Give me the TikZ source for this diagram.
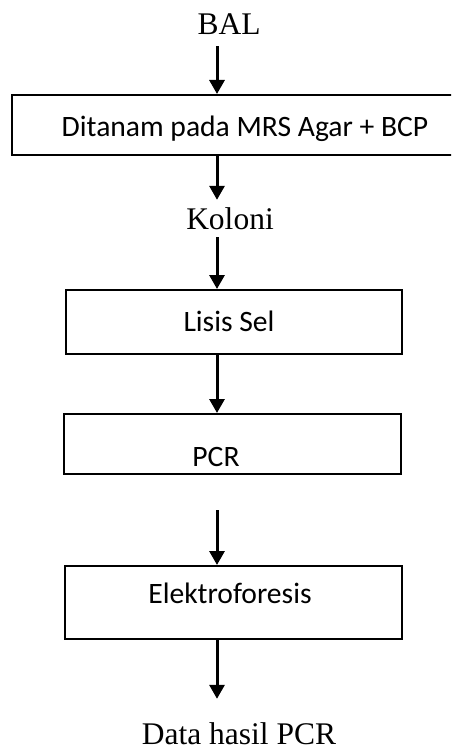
\documentclass[tikz,border=0pt]{standalone}
\usepackage{fontspec}
\setmainfont{Liberation Serif}
\newfontfamily\boxfont{Carlito}
\usetikzlibrary{arrows.meta}

\tikzset{
  lbl/.style={inner sep=0pt, anchor=base, text height=20pt, text depth=0pt,
    font=\fontsize{31.5}{37}\selectfont},
  stage/.style={draw, line width=2pt, inner sep=0pt, text height=19pt,
    text depth=0pt, font=\boxfont\fontsize{29.6}{35}\selectfont},
  flow/.style={line width=3pt, -{Triangle[length=14pt,width=15pt]}}
}

\begin{document}
\begin{tikzpicture}[x=1pt,y=-1pt]
  \useasboundingbox (0,0) rectangle (451,746);
  \clip (0,0) rectangle (451,746);

  % arrows all run down this line
  \coordinate (spine) at (217,0);

  \node[lbl] (bal) at (229,35) {BAL};
  \node[stage, minimum width=443pt, minimum height=60pt, text height=24pt]
    (ditanam) at (233.5,125) {\hspace*{23pt}Ditanam pada MRS Agar + BCP};
  \node[lbl] (koloni) at (230,229) {Koloni};
  \node[stage, minimum width=336pt, minimum height=64pt]
    (lisis) at (234,322) {\hspace*{-10pt}Lisis Sel};
  \node[stage, minimum width=337pt, minimum height=60pt, text height=44pt]
    (pcr) at (232.5,444) {\hspace*{-33pt}PCR};
  \node[stage, minimum width=337pt, minimum height=73pt, text depth=18pt]
    (elektro) at (233.5,602.5) {\hspace*{-7pt}Elektroforesis};
  \node[lbl] (data) at (239,744.5) {Data hasil PCR};

  \draw[flow, shorten <=11pt] (bal.south -| spine) -- (ditanam.north -| spine);
  \draw[flow, shorten >=9pt] (ditanam.south -| spine) -- (koloni.north -| spine);
  \draw[flow, shorten <=8pt] (koloni.south -| spine) -- (lisis.north -| spine);
  \draw[flow] (lisis.south -| spine) -- (pcr.north -| spine);
  \draw[flow, shorten <=35pt] (pcr.south -| spine) -- (elektro.north -| spine);
  \draw[flow, shorten >=25.5pt] (elektro.south -| spine) -- (data.north -| spine);
\end{tikzpicture}
\end{document}
